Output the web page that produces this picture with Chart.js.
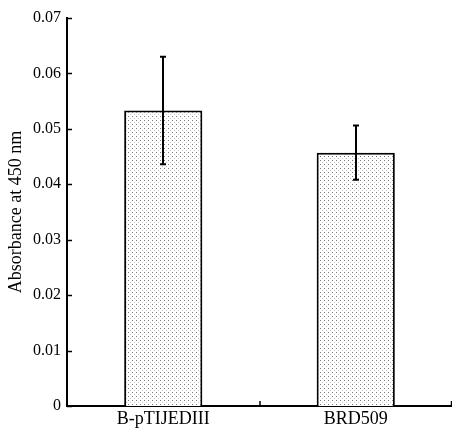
<!DOCTYPE html>
<html><head><meta charset="utf-8">
<script src="https://cdn.jsdelivr.net/npm/chart.js@4/dist/chart.umd.min.js"></script>
<style>html,body{margin:0;padding:0;background:#fff}#w{width:452px;height:428px}</style>
</head><body><div id="w"><canvas id="c" width="452" height="428"></canvas></div>
<script>
const categories = ["B-pTIJEDIII", "BRD509"];
const absorbance = [0.0533, 0.0457];
const errors = [0.0097, 0.0049];
const yTicks = [0, 0.01, 0.02, 0.03, 0.04, 0.05, 0.06, 0.07];
const yTitle = "Absorbance at 450 nm";

function dotPattern(){
  const p = document.createElement('canvas'); p.width = 4; p.height = 4;
  const g = p.getContext('2d');
  g.fillStyle = '#ffffff'; g.fillRect(0,0,4,4);
  g.fillStyle = '#777'; g.fillRect(0,0,1,1);
  g.fillStyle = '#c4c4c4'; g.fillRect(2,2,1,1);
  return document.getElementById('c').getContext('2d').createPattern(p,'repeat');
}

const extras = {
  id:'extras',
  afterDatasetsDraw(chart){
    const ctx = chart.ctx, x = chart.scales.x, y = chart.scales.y;
    ctx.save();
    ctx.strokeStyle = '#000'; ctx.lineWidth = 2;
    absorbance.forEach((v,i)=>{
      const cx = Math.round(x.getPixelForValue(i));
      const t = y.getPixelForValue(v+errors[i]), b = y.getPixelForValue(v-errors[i]);
      ctx.beginPath();
      ctx.moveTo(cx,t); ctx.lineTo(cx,b);
      ctx.moveTo(cx-3,t); ctx.lineTo(cx+3,t);
      ctx.moveTo(cx-3,b); ctx.lineTo(cx+3,b);
      ctx.stroke();
    });
    ctx.lineWidth = 1.5;
    yTicks.forEach(v=>{
      const py = Math.round(y.getPixelForValue(v))+0.5;
      ctx.beginPath(); ctx.moveTo(x.left, py); ctx.lineTo(x.left+5, py); ctx.stroke();
    });
    const mid = Math.round((x.getPixelForValue(0)+x.getPixelForValue(1))/2);
    ctx.beginPath(); ctx.moveTo(mid, y.bottom); ctx.lineTo(mid, y.bottom-5); ctx.stroke();
    ctx.beginPath(); ctx.moveTo(x.right-0.5, y.bottom); ctx.lineTo(x.right-0.5, y.bottom-5); ctx.stroke();
    ctx.restore();
  }
};

new Chart(document.getElementById('c'), {
  type:'bar',
  data:{ labels: categories, datasets:[{ data: absorbance, backgroundColor: dotPattern(), borderColor:'#000', borderWidth:2, barPercentage:0.406, categoryPercentage:1 }]},
  options:{
    responsive:false, animation:false,
    layout:{ padding:{ top:18, right:0, left:2, bottom:0 } },
    plugins:{ legend:{display:false}, tooltip:{enabled:false} },
    scales:{
      x:{ offset:true, grid:{display:false, drawTicks:false}, border:{color:'#000', width:2},
          ticks:{ color:'#000', font:{family:'Liberation Serif', size:18}, padding:2 },
          afterFit(s){ s.height = 22; } },
      y:{ min:0, max:0.07, afterBuildTicks(s){ s.ticks = yTicks.map(v=>({value:v})); },
          grid:{display:false, drawTicks:false}, border:{color:'#000', width:2},
          ticks:{ color:'#000', font:{family:'Liberation Serif', size:16}, padding:6,
                  callback:(v)=> v===0 ? '0' : v.toFixed(2) },
          title:{ display:true, text:yTitle, color:'#000', font:{family:'Liberation Serif', size:18}, padding:{top:3,bottom:0} },
          afterFit(s){ s.width = 65; } }
    }
  },
  plugins:[extras]
});
</script></body></html>
